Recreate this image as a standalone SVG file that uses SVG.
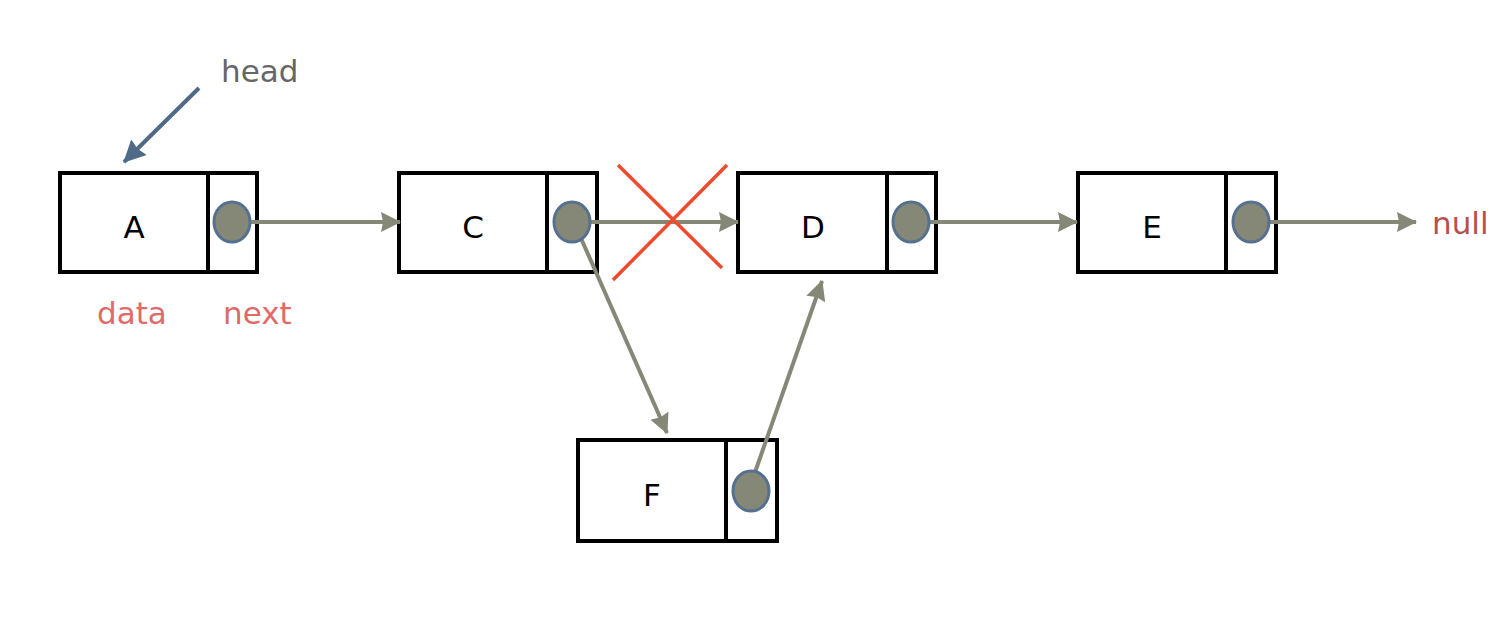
<svg xmlns="http://www.w3.org/2000/svg" width="1500" height="626" viewBox="0 0 1500 626">
<style>
.box{fill:#fff;stroke:#000;stroke-width:4}
.div{stroke:#000;stroke-width:4}
.ptr{fill:#868877;stroke:#56708f;stroke-width:3}
.lbl{font-family:"DejaVu Sans",sans-serif;font-size:31px;fill:#000;text-anchor:middle}
.link{stroke:#868877;stroke-width:4;fill:none;marker-end:url(#ah)}
.note{font-family:"DejaVu Sans",sans-serif;font-size:31px}
</style>
<defs>
<marker id="ah" viewBox="0 0 20 20" refX="19" refY="10" markerWidth="20" markerHeight="20" orient="auto" markerUnits="userSpaceOnUse">
<path d="M0,0 L20,10 L0,20 L2,10 z" fill="#868877"/>
</marker>
<marker id="ahh" viewBox="0 0 22 22" refX="21" refY="11" markerWidth="22" markerHeight="22" orient="auto" markerUnits="userSpaceOnUse">
<path d="M0,0 L22,11 L0,22 L2,11 z" fill="#4f6a87"/>
</marker>
</defs>
<g id="nodeA">
<rect class="box" x="60" y="173" width="197" height="99"/>
<line class="div" x1="208" y1="173" x2="208" y2="272"/>
<text class="lbl" x="134" y="238">A</text>
</g>
<g id="nodeC">
<rect class="box" x="399" y="173" width="198" height="99"/>
<line class="div" x1="547" y1="173" x2="547" y2="272"/>
<text class="lbl" x="473" y="238">C</text>
</g>
<g id="nodeD">
<rect class="box" x="738" y="173" width="198" height="99"/>
<line class="div" x1="887" y1="173" x2="887" y2="272"/>
<text class="lbl" x="813" y="238">D</text>
</g>
<g id="nodeE">
<rect class="box" x="1078" y="173" width="198" height="99"/>
<line class="div" x1="1226" y1="173" x2="1226" y2="272"/>
<text class="lbl" x="1152" y="238">E</text>
</g>
<g id="nodeF">
<rect class="box" x="578" y="440" width="199" height="101"/>
<line class="div" x1="726" y1="440" x2="726" y2="541"/>
<text class="lbl" x="652" y="506">F</text>
</g>
<g id="connectors">
<line class="link" x1="250" y1="222" x2="400" y2="222"/>
<line class="link" x1="590" y1="222" x2="738" y2="222"/>
<line class="link" x1="929" y1="222" x2="1077" y2="222"/>
<line class="link" x1="1268" y1="222" x2="1416" y2="222"/>
<line class="link" x1="580" y1="236" x2="667" y2="433"/>
<line class="link" x1="753" y1="478" x2="822" y2="281"/>
<line x1="199" y1="88" x2="124" y2="162" stroke="#4f6a87" stroke-width="4" marker-end="url(#ahh)"/>
</g>
<g id="pointers">
<ellipse class="ptr" cx="232" cy="222" rx="18" ry="20"/>
<ellipse class="ptr" cx="572" cy="222" rx="18" ry="20"/>
<ellipse class="ptr" cx="911" cy="222" rx="18" ry="20"/>
<ellipse class="ptr" cx="1251" cy="222" rx="18" ry="20"/>
<ellipse class="ptr" cx="751" cy="491" rx="18" ry="20"/>
</g>
<g id="cross" stroke="#f04a2c" stroke-width="3.5">
<line x1="618" y1="165" x2="722" y2="268"/>
<line x1="727" y1="165" x2="613" y2="280"/>
</g>
<text class="note" x="221" y="82" fill="#666666">head</text>
<text class="note" x="97" y="324" fill="#df6a6a">data</text>
<text class="note" x="223" y="324" fill="#df6a6a">next</text>
<text class="note" x="1432" y="234" fill="#b5504f">null</text>
</svg>
